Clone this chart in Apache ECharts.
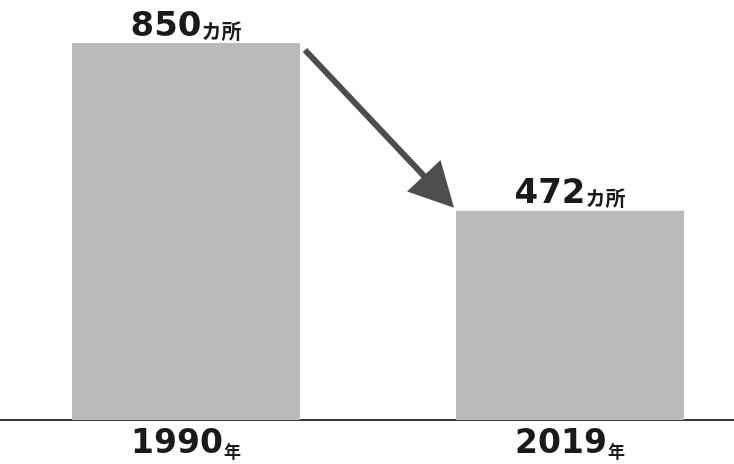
<!DOCTYPE html>
<html>
<head>
<meta charset="utf-8">
<script src="https://cdn.jsdelivr.net/npm/echarts@6/dist/echarts.min.js"></script>
<style>
  html, body { margin: 0; padding: 0; background: #fff; }
  #chart { width: 734px; height: 464px; }
</style>
</head>
<body>
<div id="chart"></div>
<script>
var years = ['1990', '2019'];
var counts = [850, 472];
var countUnit = 'カ所';
var yearUnit = '年';

var chart = echarts.init(document.getElementById('chart'));

// 柱状图
var option = {
    backgroundColor: '#ffffff',
    animation: false,
    grid: { left: -6, right: -28, top: 43, bottom: 44, outerBoundsMode: 'none', containLabel: false },
    xAxis: {
        type: 'category',
        data: years,
        axisLine: { show: true, lineStyle: { color: '#3a3a3a', width: 2 } },
        axisTick: { show: false },
        axisLabel: {
            margin: 6,
            formatter: function (v) { return '{n|' + v + '}{u|' + yearUnit + '}'; },
            rich: {
                n: { fontFamily: 'DejaVu Sans', fontWeight: 'bold', fontSize: 33, color: '#1a1a1a', lineHeight: 36 },
                u: { fontFamily: 'Noto Sans CJK JP', fontWeight: 'bold', fontSize: 17, color: '#1a1a1a', lineHeight: 36, verticalAlign: 'bottom', padding: [0, 0, 2, 1] }
            }
        }
    },
    yAxis: {
        type: 'value',
        min: 0,
        max: 850,
        show: false,
        splitLine: { show: false }
    },
    series: [{
        type: 'bar',
        data: counts,
        barWidth: 228,
        itemStyle: { color: '#bababa' },
        label: {
            show: true,
            position: 'top',
            distance: -1,
            formatter: function (p) { return '{n|' + p.value + '}{u|' + countUnit + '}'; },
            rich: {
                n: { fontFamily: 'DejaVu Sans', fontWeight: 'bold', fontSize: 34, color: '#1a1a1a', lineHeight: 34 },
                u: { fontFamily: 'Noto Sans CJK JP', fontWeight: 'bold', fontSize: 20, color: '#1a1a1a', lineHeight: 34, verticalAlign: 'bottom', padding: [0, 0, 3, 0] }
            }
        }
    }]
};
chart.setOption(option);

// 箭头：从第一根柱子右上角指向第二根柱子左上角
var half = 114;
var p1 = chart.convertToPixel({ seriesIndex: 0 }, [0, counts[0]]);
var p2 = chart.convertToPixel({ seriesIndex: 0 }, [1, counts[1]]);
var sx = p1[0] + half + 5, sy = p1[1] + 7;
var ex = p2[0] - half - 2, ey = p2[1] - 3;
var dx = ex - sx, dy = ey - sy;
var len = Math.sqrt(dx * dx + dy * dy);
var ux = dx / len, uy = dy / len;
var headLen = 44, headHalf = 23;
var bx = ex - ux * headLen, by = ey - uy * headLen;
chart.setOption({
    graphic: [
        {
            type: 'line',
            shape: { x1: sx, y1: sy, x2: bx + ux * 4, y2: by + uy * 4 },
            style: { stroke: '#4d4d4d', lineWidth: 6 },
            z: 10
        },
        {
            type: 'polygon',
            shape: { points: [[ex, ey], [bx - uy * headHalf, by + ux * headHalf], [bx + uy * headHalf, by - ux * headHalf]] },
            style: { fill: '#4d4d4d' },
            z: 10
        }
    ]
});
</script>
</body>
</html>
